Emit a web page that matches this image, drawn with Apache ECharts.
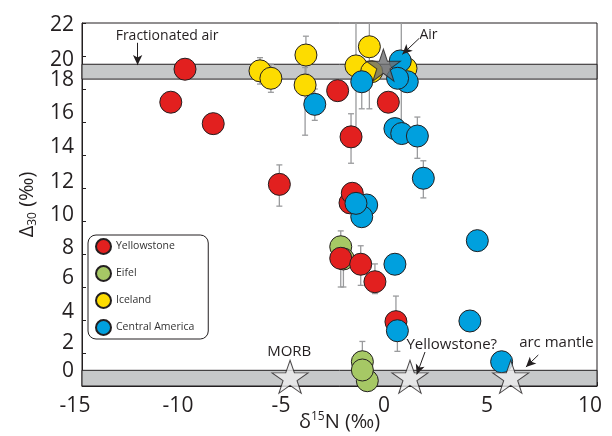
<!DOCTYPE html>
<html>
<head>
<meta charset="utf-8">
<script src="https://cdn.jsdelivr.net/npm/echarts@6/dist/echarts.min.js"></script>
<style>
  html, body { margin: 0; padding: 0; background: #fff; }
  #chart { width: 612px; height: 436px; }
</style>
</head>
<body>
<div id="chart"></div>
<script>
// points: [d15N, D30]
const yellowstone = [
  [-10.0, 19.2], [-10.69, 17.2], [-8.63, 15.9], [-2.59, 17.9], [-0.13, 17.2],
  [-1.94, 15.1], [-5.42, 12.22], [-1.99, 11.1], [-1.88, 11.68], [-2.44, 7.74],
  [-1.47, 7.38], [-0.78, 6.32], [0.24, 3.9]
];
const eifel = [[-2.44, 8.44], [-2.31, 7.7], [-1.15, 0.32], [-1.39, 1.47], [-1.39, 0.97]];
const iceland = [
  [-6.36, 19.1], [-5.83, 18.65], [-4.13, 20.06], [-4.17, 18.24],
  [-1.70, 19.4], [-1.05, 20.56], [-0.94, 19.05], [0.73, 19.25]
];
const centralAmerica = [
  [-3.70, 17.07], [-1.42, 18.44], [0.45, 19.7], [0.79, 18.44], [0.32, 18.65],
  [0.19, 15.6], [0.52, 15.3], [1.28, 15.15], [1.57, 12.59],
  [-1.18, 10.97], [-1.42, 10.26], [-1.70, 11.07], [0.19, 7.38], [4.19, 8.81],
  [0.31, 3.35], [3.83, 3.94], [5.37, 1.47]
];
// error bars: [x, low, high]
const errorBars = [
  [-1.94, 13.5, 16.5], [-1.70, 15.6, 23], [-1.05, 16.8, 23], [0.50, 15.9, 23],
  [-6.36, 18.3, 19.9], [-5.83, 17.8, 19.5], [-4.13, 18.9, 21.2], [-4.17, 15.2, 19.3],
  [-3.70, 16.1, 18.0], [-1.42, 16.8, 19.0], [1.28, 13.8, 16.3], [1.57, 11.4, 13.65],
  [-5.42, 10.9, 13.4], [-2.44, 6.0, 9.4], [-2.31, 6.0, 8.5], [-1.47, 6.1, 8.5],
  [-0.78, 5.6, 7.4], [0.24, 3.0, 5.45], [0.31, 2.1, 4.0], [-1.39, 0.8, 2.7]
];
// reference end-members
const starNames = ['Air', 'MORB', 'Yellowstone?', 'arc mantle'];
const starPoints = [[-0.37, 19.45], [-4.9, 0.56], [0.92, 0.56], [5.81, 0.56]];
// grey bands (y ranges)
const bands = [[18.6, 19.5], [0, 0.95]];
// annotations
const noteTexts = ['Fractionated air', 'Air', 'MORB', 'Yellowstone?', 'arc mantle'];
const notePos = [[-10.87, 21.2], [1.82, 21.27], [-4.94, 2.06], [2.95, 2.48], [8.03, 2.6]];
const arrows = [
  [[-12.3, 20.8], [-12.3, 19.45]],
  [[1.36, 21.06], [0.55, 20.1]],
  [[1.65, 2.06], [1.25, 0.7]],
  [[7.15, 1.88], [6.55, 1.15]]
];
const xTicks = [-15, 10, 5];
const yTicks = [0, 22, 2];

const FONT = 'Open Sans';
const INK = '#231f20';
const STAR = 'path://M50,0 L61.8,35.1 L98.9,35.1 L69,56.7 L80.3,91.9 L50,70 L19.7,91.9 L31,56.7 L1.1,35.1 L38.2,35.1 Z';

// y tick labels in the figure sit a bit off their ticks
const yShift = {0: -15, 2: -10, 4: -8, 6: -9, 8: -6, 10: -6, 12: -6, 14: -8, 16: -9, 18: -9, 20: 4, 22: 2};
const yRich = {};
Object.keys(yShift).forEach(function (k) {
  const s = yShift[k];
  yRich['t' + k] = {
    fontSize: 21, fontFamily: FONT, color: INK,
    padding: s < 0 ? [0, 0, -2 * s, 0] : [2 * s, 0, 0, 0]
  };
});

const chart = echarts.init(document.getElementById('chart'), null, { renderer: 'canvas' });

function dots(name, data, color) {
  return {
    name: name,
    type: 'scatter',
    data: data,
    symbol: 'circle',
    symbolSize: 22,
    z: 3,
    itemStyle: { color: color, borderColor: INK, borderWidth: 1, opacity: 1 },
    emphasis: { disabled: true }
  };
}

const option = {
  animation: false,
  backgroundColor: '#fff',
  grid: {
    left: 82, right: 15, top: 23, bottom: 50,
    outerBoundsMode: 'none',
    containLabel: false,
    show: true, borderColor: INK, borderWidth: 1, backgroundColor: 'transparent'
  },
  legend: {
    data: ['Yellowstone', 'Eifel', 'Iceland', 'Central America'],
    orient: 'vertical',
    left: 88, top: 235,
    itemWidth: 15, itemHeight: 15, itemGap: 10,
    icon: 'circle',
    padding: [3, 14, 3, 7],
    borderColor: INK, borderWidth: 1, borderRadius: 8,
    backgroundColor: '#fff',
    textStyle: { fontSize: 10.5, fontFamily: FONT, color: '#333' }
  },
  xAxis: {
    type: 'value',
    min: xTicks[0], max: xTicks[1], interval: xTicks[2],
    name: '{a|δ}{s|15}{a|N (‰)}',
    nameLocation: 'middle',
    nameGap: 25,
    nameMoveOverlap: false,
    nameTextStyle: {
      rich: {
        a: { fontSize: 20, fontFamily: FONT, color: INK, lineHeight: 22 },
        s: { fontSize: 12, fontFamily: FONT, color: INK, verticalAlign: 'top', lineHeight: 22 }
      }
    },
    axisLine: { onZero: false, lineStyle: { color: INK, width: 1 } },
    axisTick: { inside: true, length: 4, lineStyle: { color: INK } },
    minorTick: { show: true, splitNumber: 5, length: 4, lineStyle: { color: INK } },
    splitLine: { show: false },
    axisLabel: {
      fontSize: 21, fontFamily: FONT, color: INK, margin: 10,
      padding: [0, 14, 0, 0]
    }
  },
  yAxis: {
    type: 'value',
    min: yTicks[0], max: yTicks[1], interval: yTicks[2],
    name: '{a|Δ}{s|30}{a| (‰)}',
    nameLocation: 'middle',
    nameRotate: 90,
    nameGap: 43,
    nameMoveOverlap: false,
    nameTextStyle: {
      rich: {
        a: { fontSize: 20, fontFamily: FONT, color: INK, lineHeight: 24 },
        s: { fontSize: 12, fontFamily: FONT, color: INK, verticalAlign: 'bottom', lineHeight: 24 }
      }
    },
    axisLine: { onZero: false, lineStyle: { color: INK, width: 1 } },
    axisTick: { inside: true, length: 4, lineStyle: { color: INK } },
    splitLine: { show: false },
    axisLabel: {
      margin: 8,
      formatter: function (v) { return '{t' + v + '|' + v + '}'; },
      rich: yRich
    }
  },
  series: [
    {
      name: 'bands',
      type: 'line',
      data: [],
      z: 1,
      silent: true,
      markArea: {
        silent: true,
        itemStyle: { color: '#c6c8c9', borderColor: INK, borderWidth: 1 },
        data: bands.map(function (b) {
          return [{ xAxis: xTicks[0], yAxis: b[0] }, { xAxis: xTicks[1], yAxis: b[1] }];
        })
      },
      markLine: {
        silent: true,
        symbol: ['none', 'arrow'],
        symbolSize: [7, 10],
        label: { show: false },
        lineStyle: { color: INK, width: 1, type: 'solid' },
        data: arrows.map(function (a) {
          return [{ coord: a[0] }, { coord: a[1] }];
        })
      }
    },
    {
      name: 'errors',
      type: 'custom',
      z: 2,
      clip: true,
      silent: true,
      data: errorBars,
      encode: { x: 0, y: [1, 2] },
      renderItem: function (params, api) {
        const lo = api.coord([api.value(0), api.value(1)]);
        const hi = api.coord([api.value(0), api.value(2)]);
        const w = 3;
        const st = { stroke: '#9a9b9d', lineWidth: 1.3 };
        return {
          type: 'group',
          children: [
            { type: 'line', shape: { x1: lo[0], y1: lo[1], x2: hi[0], y2: hi[1] }, style: st },
            { type: 'line', shape: { x1: lo[0] - w, y1: lo[1], x2: lo[0] + w, y2: lo[1] }, style: st },
            { type: 'line', shape: { x1: hi[0] - w, y1: hi[1], x2: hi[0] + w, y2: hi[1] }, style: st }
          ]
        };
      }
    },
    dots('Eifel', eifel, '#a6c865'),
    dots('Yellowstone', yellowstone, '#e2201f'),
    dots('Iceland', iceland, '#fddc00'),
    dots('Central America', centralAmerica, '#00a0de'),
    {
      name: 'end-members',
      type: 'scatter',
      symbol: STAR,
      symbolSize: [36, 33],
      z: 4,
      emphasis: { disabled: true },
      data: starPoints.map(function (p, i) {
        return {
          name: starNames[i],
          value: p,
          symbolSize: i === 0 ? [34, 32] : [36, 33],
          itemStyle: {
            color: i === 0 ? '#6d6e71' : '#eeeeef',
            borderColor: INK,
            borderWidth: 1
          }
        };
      })
    }
  ]
};

chart.setOption(option);

// annotation texts placed through the chart's own coordinate system
chart.setOption({
  graphic: noteTexts.map(function (t, i) {
    const p = chart.convertToPixel({ gridIndex: 0 }, notePos[i]);
    return {
      type: 'text',
      x: p[0], y: p[1], z: 10,
      style: {
        text: t,
        fontSize: i < 2 ? 14 : 15,
        fontFamily: FONT,
        fill: INK,
        align: 'center',
        verticalAlign: 'middle'
      }
    };
  })
});
</script>
</body>
</html>
